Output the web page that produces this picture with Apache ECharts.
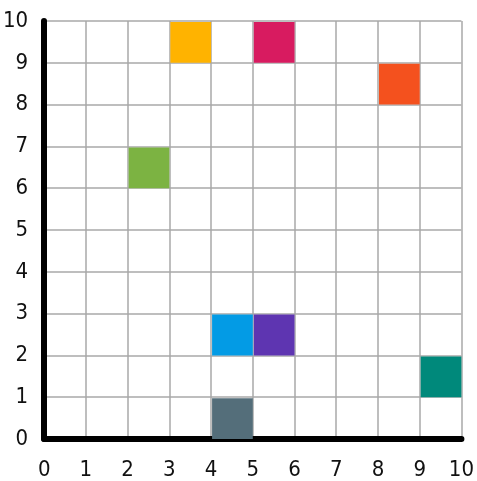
<!DOCTYPE html>
<html>
<head>
<meta charset="utf-8">
<script src="https://cdn.jsdelivr.net/npm/echarts@6/dist/echarts.min.js"></script>
<style>html,body{margin:0;padding:0;background:#fff}#c{width:477px;height:481px}</style>
</head>
<body>
<div id="c"></div>
<script>
// Cells: lower-left corner (x, y) of each 1x1 square
var cellX = [3, 5, 8, 2, 4, 5, 9, 4];
var cellY = [9, 9, 8, 6, 2, 2, 1, 0];
var cellColors = ['#FFB300', '#D81B60', '#F4511E', '#7CB342', '#039BE5', '#5E35B1', '#00897B', '#546E7A'];
var tickLabels = ['0','1','2','3','4','5','6','7','8','9','10'];

var data = cellX.map(function (x, i) { return [x, cellY[i], i]; });

var chart = echarts.init(document.getElementById('c'));
var labelStyle = { color: '#111', fontSize: 22, fontFamily: 'DejaVu Sans Condensed, DejaVu Sans',
  formatter: function (v) { return tickLabels[v]; } };
var axisCommon = {
  type: 'value', min: 0, max: 10, interval: 1,
  axisLine: { show: true, onZero: false, lineStyle: { color: '#000', width: 6 } },
  axisTick: { show: false },
  splitLine: { show: true, lineStyle: { color: '#a8a8a8', width: 1.5 } }
};
chart.setOption({
  animation: false,
  grid: { left: 44, right: 12, top: 21, bottom: 41 },
  xAxis: Object.assign({}, axisCommon, { axisLabel: Object.assign({}, labelStyle, { margin: 20 }) }),
  yAxis: Object.assign({}, axisCommon, { axisLabel: Object.assign({}, labelStyle, { margin: 16 }) }),
  series: [{
    type: 'custom',
    data: data,
    z: 1,
    renderItem: function (params, api) {
      var p0 = api.coord([api.value(0), api.value(1) + 1]);
      var p1 = api.coord([api.value(0) + 1, api.value(1)]);
      return {
        type: 'rect',
        shape: { x: p0[0] + 1, y: p0[1] + 1, width: p1[0] - p0[0] - 1, height: p1[1] - p0[1] - 1 },
        style: { fill: cellColors[api.value(2)] }
      };
    }
  }]
});
</script>
</body>
</html>
